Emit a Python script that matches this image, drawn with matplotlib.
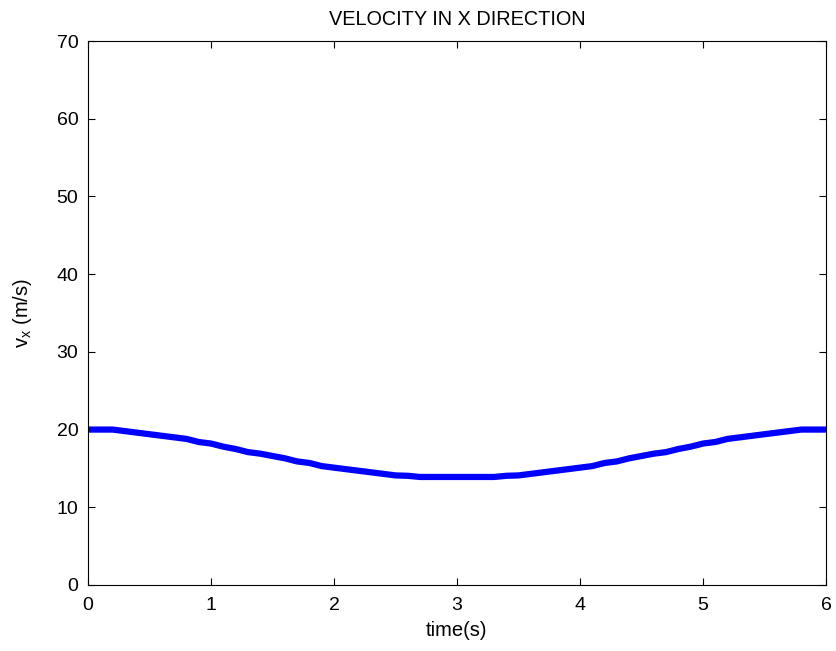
import matplotlib
matplotlib.use("Agg")
import matplotlib.pyplot as plt
import numpy as np

time_s = [0.0, 0.1, 0.2, 0.3, 0.4, 0.5, 0.6, 0.7, 0.8, 0.9, 1.0,
          1.1, 1.2, 1.3, 1.4, 1.5, 1.6, 1.7, 1.8, 1.9, 2.0,
          2.1, 2.2, 2.3, 2.4, 2.5, 2.6, 2.7, 2.8, 2.9, 3.0,
          3.1, 3.2, 3.3, 3.4, 3.5, 3.6, 3.7, 3.8, 3.9, 4.0,
          4.1, 4.2, 4.3, 4.4, 4.5, 4.6, 4.7, 4.8, 4.9, 5.0,
          5.1, 5.2, 5.3, 5.4, 5.5, 5.6, 5.7, 5.8, 5.9, 6.0]
vx = [20.0, 20.0, 20.0, 19.8, 19.6, 19.4, 19.2, 19.0, 18.8, 18.4, 18.2,
      17.8, 17.5, 17.1, 16.9, 16.6, 16.3, 15.9, 15.7, 15.3, 15.1,
      14.9, 14.7, 14.5, 14.3, 14.1, 14.05, 13.9, 13.9, 13.9, 13.9,
      13.9, 13.9, 13.9, 14.05, 14.1, 14.3, 14.5, 14.7, 14.9, 15.1,
      15.3, 15.7, 15.9, 16.3, 16.6, 16.9, 17.1, 17.5, 17.8, 18.2,
      18.4, 18.8, 19.0, 19.2, 19.4, 19.6, 19.8, 20.0, 20.0, 20.0]
x_ticks = [0, 1, 2, 3, 4, 5, 6]
y_ticks = [0, 10, 20, 30, 40, 50, 60, 70]

plt.rcParams['font.family'] = ['Liberation Sans', 'DejaVu Sans']
fig = plt.figure(figsize=(8.36, 6.51), dpi=100)
ax = fig.add_axes([0.1053, 0.1014, 0.8827, 0.8356])
ax.plot(time_s, vx, color='#0000ff', linewidth=4.5, solid_capstyle='butt')
ax.set_xlim(0, 6)
ax.set_ylim(0, 70)
ax.set_xticks(x_ticks)
ax.set_yticks(y_ticks)
ax.tick_params(direction='in', length=5, width=0.8, labelsize=14,
               top=True, right=True)
ax.tick_params(axis='x', pad=9)
ax.tick_params(axis='y', pad=7)
for s in ax.spines.values():
    s.set_linewidth(0.8)
ax.set_title('VELOCITY IN X DIRECTION', fontsize=14.3, pad=11.5)
ax.set_xlabel('time(s)', fontsize=14.5, labelpad=5)
ax.set_ylabel(r'v$_\mathregular{x}$ (m/s)', fontsize=14.5, labelpad=16)
fig.savefig('out.png', dpi=100)
